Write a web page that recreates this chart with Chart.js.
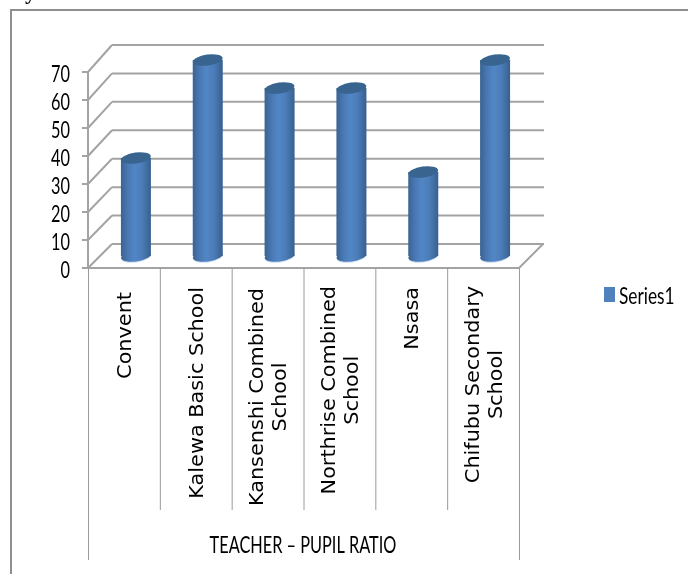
<!DOCTYPE html>
<html>
<head>
<meta charset="utf-8">
<title>Teacher - Pupil Ratio</title>
<script src="https://cdn.jsdelivr.net/npm/chart.js@4"></script>
<style>
  html, body { margin: 0; padding: 0; background: #fff; }
  canvas { display: block; }
</style>
</head>
<body>
<canvas id="chart" width="688" height="574"></canvas>
<script>
const categories = [
  ['Convent'],
  ['Kalewa Basic School'],
  ['Kansenshi Combined', 'School'],
  ['Northrise Combined', 'School'],
  ['Nsasa'],
  ['Chifubu Secondary', 'School'],
];
const series1 = [35, 70, 60, 60, 30, 70];
const seriesName = 'Series1';
const axisTitle = 'TEACHER \u2013 PUPIL RATIO';
const yTicks = [0, 10, 20, 30, 40, 50, 60, 70];

const labelTop = [292, 287, 288, 286, 287, 286];   // top end of each rotated label

const GRID   = '#a3a3a3';
const DEPTH  = 24;   // back wall offset
const BAR_W  = 30;

function line(ctx, x1, y1, x2, y2) {
  ctx.beginPath();
  ctx.moveTo(x1, y1);
  ctx.lineTo(x2, y2);
  ctx.stroke();
}

function ellipse(ctx, x, y, fill) {
  ctx.beginPath();
  ctx.ellipse(x, y, BAR_W / 2, 5.5, -0.14, 0, Math.PI * 2);
  ctx.fillStyle = fill;
  ctx.fill();
}

function barGradient(ctx, x) {
  const g = ctx.createLinearGradient(x - BAR_W / 2, 0, x + BAR_W / 2, 0);
  g.addColorStop(0, '#3a6392');
  g.addColorStop(0.25, '#4a7ab6');
  g.addColorStop(0.45, '#5186c6');
  g.addColorStop(0.7, '#4c7db9');
  g.addColorStop(1, '#38608f');
  return g;
}

// the original labels are a squeezed, tall Calibri: Lato pulled narrow
function tallText(ctx, txt, x, y, align, size, squeeze) {
  ctx.save();
  ctx.translate(x, y);
  ctx.scale(squeeze, 1);
  ctx.font = `${size}px Lato, sans-serif`;
  ctx.textAlign = align;
  ctx.textBaseline = 'middle';
  ctx.fillStyle = '#000';
  ctx.fillText(txt, 0, 0);
  ctx.restore();
}

const plot3d = {
  id: 'plot3d',
  beforeDatasetsDraw(chart) {
    const { ctx, chartArea: a, scales: { x, y } } = chart;
    ctx.save();

    // frame of the picture, runs off the right and bottom
    ctx.strokeStyle = '#8f8f8f';
    ctx.lineWidth = 2;
    ctx.beginPath();
    ctx.moveTo(11, 574);
    ctx.lineTo(11, 10);
    ctx.lineTo(688, 10);
    ctx.stroke();

    // walls and floor; the back wall is a touch taller than the front
    ctx.strokeStyle = GRID;
    ctx.lineWidth = 2;
    yTicks.forEach((v) => {
      const py = y.getPixelForValue(v);
      const back = py - DEPTH - (v / 70) * 3;
      line(ctx, a.left, py, a.left + DEPTH, back);
      line(ctx, a.left + DEPTH, back, a.right + DEPTH + 1, back);
      line(ctx, a.left - 6, py, a.left, py);
      tallText(ctx, String(v), 70, py + 2, 'right', 24, 0.68);
    });
    line(ctx, a.left, a.top, a.left, a.bottom);
    line(ctx, a.left, a.bottom, a.right, a.bottom);
    line(ctx, a.right, a.bottom, a.right + DEPTH, a.bottom - DEPTH);

    // category cells below the floor
    ctx.lineWidth = 1;
    ctx.strokeStyle = '#9a9a9a';
    const cell = (a.right - a.left) / categories.length;
    for (let i = 0; i <= categories.length; i++) {
      const px = a.left + cell * i;
      const outer = i === 0 || i === categories.length;
      line(ctx, px + 0.5, a.bottom, px + 0.5, outer ? 560 : 510);
    }

    // category labels, each line centred in its block
    ctx.fillStyle = '#000';
    ctx.font = "20px 'DejaVu Sans', sans-serif";
    ctx.textAlign = 'center';
    ctx.textBaseline = 'middle';
    categories.forEach((lines, i) => {
      const cx = x.getPixelForValue(i) + 2;
      const longest = Math.max(...lines.map((l) => ctx.measureText(l).width)) * 1.04;
      lines.forEach((txt, j) => {
        ctx.save();
        ctx.translate(cx + (j - (lines.length - 1) / 2) * 23, labelTop[i] + longest / 2);
        ctx.rotate(-Math.PI / 2);
        ctx.scale(1.04, 1);
        ctx.fillText(txt, 0, 0);
        ctx.restore();
      });
    });

    // axis title and legend
    tallText(ctx, axisTitle, 303, 545, 'center', 24, 0.68);
    ctx.fillStyle = '#4f81bd';
    ctx.fillRect(604, 287, 11, 15);
    tallText(ctx, chart.data.datasets[0].label, 619, 296, 'left', 24, 0.72);

    // scrap of the text line above the chart
    ctx.fillStyle = '#000';
    ctx.textAlign = 'left';
    ctx.textBaseline = 'alphabetic';
    ctx.font = "bold 22px 'Liberation Serif', serif";
    ctx.fillText('y', 25, -1);

    // cylinder bottoms, then shift the bars to mid depth
    categories.forEach((_, i) => {
      const cx = x.getPixelForValue(i) + DEPTH / 2;
      const cy = y.getPixelForValue(0) - DEPTH / 2;
      ellipse(ctx, cx, cy + 1, '#cfe0f2');
      ellipse(ctx, cx, cy, barGradient(ctx, cx));
    });
    ctx.restore();

    ctx.save();
    ctx.translate(DEPTH / 2, -DEPTH / 2);
  },
  afterDatasetsDraw(chart) {
    const { ctx, scales: { x, y } } = chart;
    ctx.restore();
    ctx.save();
    series1.forEach((v, i) => {
      const cx = x.getPixelForValue(i) + DEPTH / 2;
      const cy = y.getPixelForValue(v) - DEPTH / 2;
      ellipse(ctx, cx, cy, '#38648f');
    });
    ctx.restore();
  },
};

new Chart(document.getElementById('chart'), {
  type: 'bar',
  data: {
    labels: categories,
    datasets: [{
      label: seriesName,
      data: series1,
      backgroundColor: (c) => {
        if (!c.chart.chartArea || c.dataIndex === undefined) return '#4f81bd';
        return barGradient(c.chart.ctx, c.chart.scales.x.getPixelForValue(c.dataIndex));
      },
      borderWidth: 0,
      barPercentage: BAR_W / 71.83,
      categoryPercentage: 1,
    }],
  },
  options: {
    responsive: false,
    animation: false,
    devicePixelRatio: 1,
    layout: { padding: { left: 0, right: 169, top: 72, bottom: 0 } },
    plugins: {
      legend: { display: false },
      tooltip: { enabled: false },
    },
    scales: {
      x: {
        grid: { display: false },
        border: { display: false },
        ticks: { display: false },
        afterFit: (s) => { s.height = 306; },
      },
      y: {
        min: 0,
        max: 70,
        grid: { display: false },
        border: { display: false },
        ticks: { display: false },
        afterFit: (s) => { s.width = 88; },
      },
    },
  },
  plugins: [plot3d],
});
</script>
</body>
</html>
